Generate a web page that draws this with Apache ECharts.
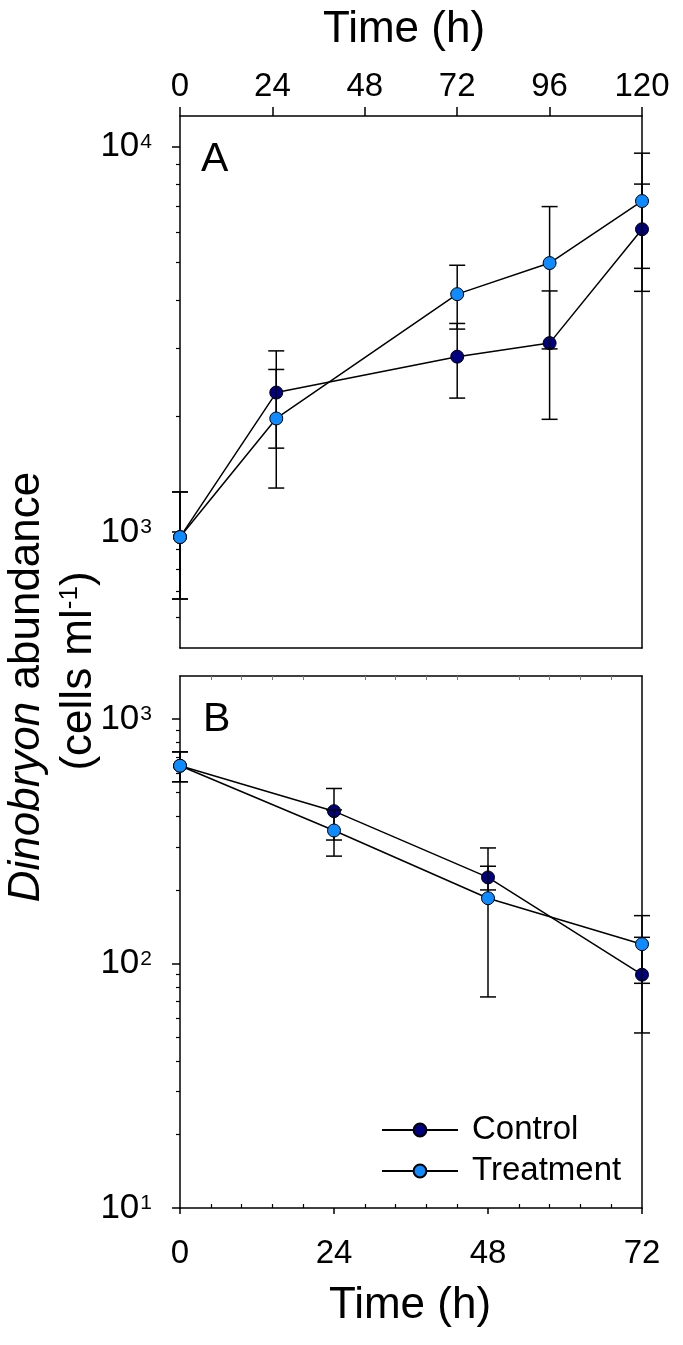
<!DOCTYPE html>
<html>
<head>
<meta charset="utf-8">
<script src="https://cdn.jsdelivr.net/npm/echarts@6/dist/echarts.min.js"></script>
<style>
html, body { margin: 0; padding: 0; background: #ffffff; }
#chart { width: 683px; height: 1345px; }
</style>
</head>
<body>
<div id="chart"></div>
<script>
// ---------- data ----------
const timesA = [0, 25, 72, 96, 120];
const controlA = [970, 2300, 2850, 3090, 6100];
const controlAErr = [300, 650, 625, 1130, 1890];
const treatA = [970, 1970, 4140, 4985, 7220];
const treatAErr = [300, 670, 780, 2000, 2390];

const timesB = [0, 24, 48, 72];
const controlB = [644, 420, 225, 90];
const controlBErr = [90, 100, 25, 38];
const treatB = [644, 350, 185, 120];
const treatBErr = [90, 75, 112, 37];

const yMajorA = [1000, 10000];
const yMinorA = [600, 700, 800, 900, 2000, 3000, 4000, 5000, 6000, 7000, 8000, 9000];
const yMajorB = [10, 100, 1000];
const yMinorB = [20, 30, 40, 50, 60, 70, 80, 90, 200, 300, 400, 500, 600, 700, 800, 900];

const seriesNames = ['Control', 'Treatment'];
const xTitle = 'Time (h)';
const panelLabels = ['A', 'B'];

// ---------- styles ----------
const FONT = '"Liberation Sans", Arial, Helvetica, sans-serif';
const CONTROL_COLOR = '#000080';
const TREAT_COLOR = '#0F8BFF';
const AXIS_LINE = { color: '#000', width: 1.5 };

function pts(t, v) { return t.map((x, i) => [x, v[i]]); }
function errPts(t, v, e) { return t.map((x, i) => [x, v[i], e[i]]); }

function renderErr(params, api) {
  const x = api.value(0), m = api.value(1), e = api.value(2);
  const top = api.coord([x, m + e]);
  const bot = api.coord([x, m - e]);
  const hw = 8;
  const st = { stroke: '#000', lineWidth: 1.5 };
  return {
    type: 'group',
    children: [
      { type: 'line', shape: { x1: top[0], y1: top[1], x2: bot[0], y2: bot[1] }, style: st },
      { type: 'line', shape: { x1: top[0] - hw, y1: top[1], x2: top[0] + hw, y2: top[1] }, style: st },
      { type: 'line', shape: { x1: bot[0] - hw, y1: bot[1], x2: bot[0] + hw, y2: bot[1] }, style: st }
    ]
  };
}

const yLabelRich = {
  b: { fontSize: 35, fontFamily: FONT, color: '#000', lineHeight: 36 },
  s: { fontSize: 21, fontFamily: FONT, color: '#000', verticalAlign: 'top', lineHeight: 21, padding: [3, 0, 0, 1] }
};
function yLabelFmt(v) { return '{b|10}{s|' + Math.round(Math.log10(v)) + '}'; }

function logAxisMain(grid, min, max, majors) {
  return {
    gridIndex: grid, type: 'log', logBase: 10, min: min, max: max, position: 'left',
    axisLine: { show: true, onZero: false, lineStyle: AXIS_LINE },
    axisTick: { show: true, length: 8, customValues: majors, lineStyle: { color: '#000', width: 1.5 } },
    axisLabel: { show: true, customValues: majors, margin: 28, formatter: yLabelFmt, rich: yLabelRich },
    splitLine: { show: false }, minorTick: { show: false }
  };
}
function logAxisMinor(grid, min, max, minors) {
  return {
    gridIndex: grid, type: 'log', logBase: 10, min: min, max: max, position: 'left',
    axisLine: { show: false, onZero: false },
    axisTick: { show: true, length: 4, customValues: minors, lineStyle: { color: '#000', width: 1.2 } },
    axisLabel: { show: false },
    splitLine: { show: false }
  };
}
function borderAxisY(grid) {
  return {
    gridIndex: grid, type: 'value', min: 0, max: 1, position: 'right',
    axisLine: { show: true, onZero: false, lineStyle: AXIS_LINE },
    axisTick: { show: false }, axisLabel: { show: false }, splitLine: { show: false }
  };
}

const option = {
  animation: false,
  backgroundColor: '#ffffff',
  textStyle: { fontFamily: FONT },
  grid: [
    { left: 180, width: 462, top: 116, height: 532, outerBoundsMode: 'none', containLabel: false },
    { left: 180, width: 462, top: 676, height: 532, outerBoundsMode: 'none', containLabel: false }
  ],
  xAxis: [
    // 0: panel A top axis
    {
      gridIndex: 0, type: 'value', position: 'top', min: 0, max: 120, interval: 24,
      axisLine: { show: true, onZero: false, lineStyle: AXIS_LINE },
      axisTick: { show: true, length: 9, lineStyle: { color: '#000', width: 1.5 } },
      axisLabel: { show: true, fontSize: 33, fontFamily: FONT, color: '#000', margin: 13 },
      splitLine: { show: false }
    },
    // 1: panel A bottom border
    {
      gridIndex: 0, type: 'value', position: 'bottom', min: 0, max: 120,
      axisLine: { show: true, onZero: false, lineStyle: AXIS_LINE },
      axisTick: { show: false }, axisLabel: { show: false }, splitLine: { show: false }
    },
    // 2: panel B bottom axis (major ticks outward, labels)
    {
      gridIndex: 1, type: 'value', position: 'bottom', min: 0, max: 72, interval: 24,
      axisLine: { show: true, onZero: false, lineStyle: AXIS_LINE },
      axisTick: { show: true, length: 6, lineStyle: { color: '#000', width: 1.5 } },
      axisLabel: { show: true, fontSize: 33, fontFamily: FONT, color: '#000', margin: 29 },
      splitLine: { show: false }
    },
    // 3: panel B bottom minor ticks (inward)
    {
      gridIndex: 1, type: 'value', position: 'bottom', min: 0, max: 72, interval: 24,
      axisLine: { show: false, onZero: false },
      axisTick: { show: false, inside: true },
      minorTick: { show: true, splitNumber: 5, length: 4, lineStyle: { color: '#000', width: 1.2 } },
      axisLabel: { show: false }, splitLine: { show: false }
    },
    // 4: panel B top border with inward minor ticks
    {
      gridIndex: 1, type: 'value', position: 'top', min: 0, max: 72, interval: 24,
      axisLine: { show: true, onZero: false, lineStyle: AXIS_LINE },
      axisTick: { show: false, inside: true },
      minorTick: { show: true, splitNumber: 5, length: 4, lineStyle: { color: '#777', width: 1 } },
      axisLabel: { show: false }, splitLine: { show: false }
    }
  ],
  yAxis: [
    logAxisMain(0, 500, 12000, yMajorA),   // 0
    logAxisMinor(0, 500, 12000, yMinorA),  // 1
    borderAxisY(0),                        // 2
    logAxisMain(1, 10, 1500, yMajorB),     // 3
    logAxisMinor(1, 10, 1500, yMinorB),    // 4
    borderAxisY(1)                         // 5
  ],
  legend: {
    orient: 'vertical', left: 376, top: 1107,
    itemWidth: 76, itemHeight: 16, itemGap: 5,
    selectedMode: false,
    data: seriesNames,
    textStyle: { fontFamily: FONT, fontSize: 33, color: '#000', lineHeight: 36, padding: [0, 0, 0, 9] }
  },
  graphic: [
    { type: 'text', x: 404, y: 30, silent: true,
      style: { text: xTitle, fontSize: 44, fontFamily: FONT, fill: '#000', align: 'center', verticalAlign: 'middle' } },
    { type: 'text', x: 410, y: 1306, silent: true,
      style: { text: xTitle, fontSize: 44, fontFamily: FONT, fill: '#000', align: 'center', verticalAlign: 'middle' } },
    { type: 'text', x: 27, y: 687, rotation: Math.PI / 2, silent: true,
      style: { text: '{i|Dinobryon} abundance', fontSize: 44, fontFamily: FONT, fill: '#000', align: 'center', verticalAlign: 'middle',
        rich: { i: { fontStyle: 'italic', fontSize: 44, fontFamily: FONT, fill: '#000' } } } },
    { type: 'text', x: 79, y: 671, rotation: Math.PI / 2, silent: true,
      style: { text: '(cells ml{s|-1})', fontSize: 44, fontFamily: FONT, fill: '#000', align: 'center', verticalAlign: 'middle',
        rich: { s: { fontSize: 26, fontFamily: FONT, fill: '#000', verticalAlign: 'top', lineHeight: 26 } } } },
    { type: 'text', x: 201, y: 160, silent: true,
      style: { text: panelLabels[0], fontSize: 41, fontFamily: FONT, fill: '#000', align: 'left', verticalAlign: 'middle' } },
    { type: 'text', x: 203, y: 720, silent: true,
      style: { text: panelLabels[1], fontSize: 41, fontFamily: FONT, fill: '#000', align: 'left', verticalAlign: 'middle' } }
  ],
  series: [
    // panel A
    { type: 'custom', name: 'errA-control', xAxisIndex: 0, yAxisIndex: 0, z: 2, silent: true, clip: false,
      renderItem: renderErr, encode: { x: 0, y: 1 }, data: errPts(timesA, controlA, controlAErr) },
    { type: 'line', name: seriesNames[0], xAxisIndex: 0, yAxisIndex: 0, z: 3, silent: true, clip: false,
      data: pts(timesA, controlA), symbol: 'circle', symbolSize: 13,
      itemStyle: { color: CONTROL_COLOR, borderColor: '#000', borderWidth: 1 },
      lineStyle: { color: '#000', width: 1.5 }, emphasis: { disabled: true } },
    { type: 'custom', name: 'errA-treat', xAxisIndex: 0, yAxisIndex: 0, z: 4, silent: true, clip: false,
      renderItem: renderErr, encode: { x: 0, y: 1 }, data: errPts(timesA, treatA, treatAErr) },
    { type: 'line', name: seriesNames[1], xAxisIndex: 0, yAxisIndex: 0, z: 5, silent: true, clip: false,
      data: pts(timesA, treatA), symbol: 'circle', symbolSize: 13,
      itemStyle: { color: TREAT_COLOR, borderColor: '#000', borderWidth: 1 },
      lineStyle: { color: '#000', width: 1.5 }, emphasis: { disabled: true } },
    // panel B
    { type: 'custom', name: 'errB-control', xAxisIndex: 2, yAxisIndex: 3, z: 2, silent: true, clip: false,
      renderItem: renderErr, encode: { x: 0, y: 1 }, data: errPts(timesB, controlB, controlBErr) },
    { type: 'line', name: seriesNames[0], xAxisIndex: 2, yAxisIndex: 3, z: 3, silent: true, clip: false,
      data: pts(timesB, controlB), symbol: 'circle', symbolSize: 13,
      itemStyle: { color: CONTROL_COLOR, borderColor: '#000', borderWidth: 1 },
      lineStyle: { color: '#000', width: 1.5 }, emphasis: { disabled: true } },
    { type: 'custom', name: 'errB-treat', xAxisIndex: 2, yAxisIndex: 3, z: 4, silent: true, clip: false,
      renderItem: renderErr, encode: { x: 0, y: 1 }, data: errPts(timesB, treatB, treatBErr) },
    { type: 'line', name: seriesNames[1], xAxisIndex: 2, yAxisIndex: 3, z: 5, silent: true, clip: false,
      data: pts(timesB, treatB), symbol: 'circle', symbolSize: 13,
      itemStyle: { color: TREAT_COLOR, borderColor: '#000', borderWidth: 1 },
      lineStyle: { color: '#000', width: 1.5 }, emphasis: { disabled: true } }
  ]
};

const chart = echarts.init(document.getElementById('chart'), null, { renderer: 'canvas' });
chart.setOption(option);
</script>
</body>
</html>
